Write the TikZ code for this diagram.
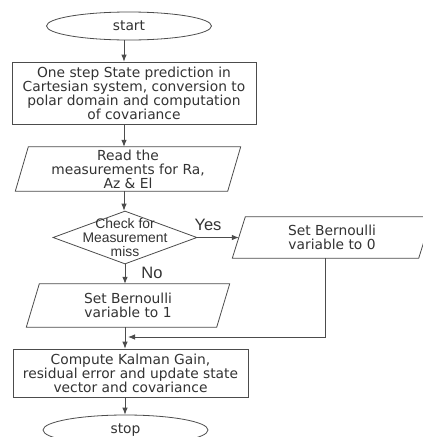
\documentclass[tikz,border=0pt]{standalone}
\usepackage{fontspec}
\setmainfont{DejaVu Sans}
\newfontfamily\arialfont{Liberation Sans}
\usetikzlibrary{shapes.geometric,arrows.meta,calc}
\definecolor{txt}{gray}{0.2}
\definecolor{linegray}{gray}{0.3}
\begin{document}
\begin{tikzpicture}[x=1pt,y=-1pt,
  line/.style={draw=linegray, line width=0.8pt},
  arr/.style={line, -{Latex[length=7pt,width=5.5pt]}},
  body/.style={font=\fontsize{13.8}{14}\selectfont, text=txt, align=center, inner sep=0pt},
  term/.style={body, ellipse, line, minimum width=165pt, minimum height=28pt},
  proc/.style={body, rectangle, line},
  iobox/.style={body, rectangle},
  para/.style={line},
  decision/.style={diamond, line, inner sep=0pt, minimum width=144pt, minimum height=53pt},
  dectext/.style={font=\arialfont\fontsize{13.9}{14}\selectfont, text=txt, align=center, inner sep=0pt},
  lbl/.style={font=\arialfont\fontsize{16.5}{18}\selectfont, text=txt, inner sep=0pt}
]
\clip (0,0) rectangle (423,437);
\fill[white] (0,0) rectangle (423,437);
\coordinate (col) at (124,0);
\coordinate (rdrop) at (325,0);
\coordinate (join) at (128,337);

\node[term] (start) at (129,26) {start};
\node[proc, minimum width=244pt, minimum height=62pt] (pred) at (134,93)
  {One step State prediction in\\Cartesian system, conversion to\\polar domain and computation\\of covariance};
\node[iobox, minimum width=212pt, minimum height=44pt] (read) at (128,169)
  {Read the\\measurements for Ra,\\Az \& El};
\node[decision] (dia) at (125,237.5) {};
\node[dectext] (diatext) at (125,237.5) {Check for\\Measurement\\miss};
\node[iobox, minimum width=186pt, minimum height=41pt] (bzero) at (332,237.5)
  {Set Bernoulli\\variable to 0};
\node[iobox, minimum width=190pt, minimum height=43pt] (bone) at (128,305.5)
  {Set Bernoulli\\variable to 1};
\node[proc, minimum width=235pt, minimum height=48pt] (kal) at (130.5,373)
  {Compute Kalman Gain,\\residual error and update state\\vector and covariance};
\node[term, minimum height=30pt] (stop) at (125.5,430) {stop};

\foreach \n in {read,bzero,bone}{
  \draw[para] ([xshift=6.5pt]\n.north west) -- ([xshift=6.5pt]\n.north east)
    -- ([xshift=-6.5pt]\n.south east) -- ([xshift=-6.5pt]\n.south west) -- cycle;
}

\node[lbl] (yes) at (208,225) {Yes};
\node[lbl] (no) at (152,273) {No};

\draw[arr] (start.south -| col) -- (pred.north -| col);
\draw[arr] (pred.south -| col) -- (read.north -| col);
\draw[arr] (read.south -| col) -- (dia.north -| col);
\draw[arr] (dia.south) -- (bone.north -| dia.south);
\draw[arr] (dia.east) -- (bzero.west);
\draw[arr] (bone.south -| dia.south) -- (kal.north -| dia.south);
\draw[arr] (bzero.south -| rdrop) |- (join);
\draw[arr] (kal.south -| dia.south) -- (stop.north -| dia.south);
\end{tikzpicture}
\end{document}
